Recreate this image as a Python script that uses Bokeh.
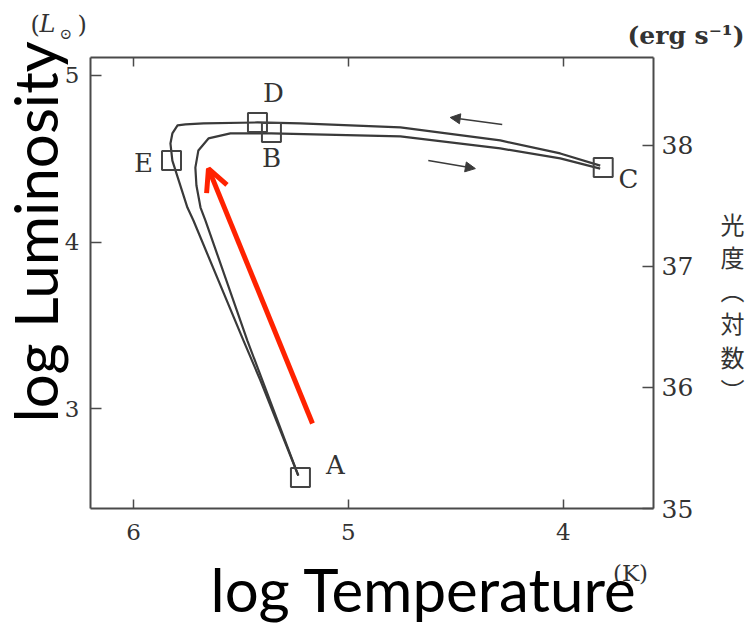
import math
from bokeh.plotting import figure
from bokeh.models import Range1d, LinearAxis, FixedTicker, Label, Arrow, OpenHead, NormalHead
from bokeh.core.properties import value
from bokeh.embed import file_html
from bokeh.resources import INLINE

# ---- data (log T [K], log L [L_sun]) ----
outer_logT = [5.233, 5.409, 5.488, 5.721, 5.749, 5.819, 5.828, 5.819, 5.795, 5.758, 5.674, 5.423, 5.223, 4.758, 4.293, 4.014, 3.828]
outer_logL = [2.598, 3.168, 3.408, 4.129, 4.207, 4.489, 4.592, 4.652, 4.700, 4.706, 4.712, 4.718, 4.712, 4.688, 4.610, 4.532, 4.459]
inner_logT = [5.233, 5.470, 5.665, 5.688, 5.707, 5.712, 5.698, 5.651, 5.549, 5.358, 4.758, 4.293, 4.014, 3.828]
inner_logL = [2.598, 3.408, 4.129, 4.207, 4.339, 4.447, 4.550, 4.622, 4.652, 4.652, 4.634, 4.562, 4.502, 4.441]

point_names = ["A", "B", "C", "D", "E"]
point_logT = [5.223, 5.358, 3.814, 5.423, 5.823]
point_logL = [2.586, 4.658, 4.447, 4.718, 4.489]
label_logT = [5.060, 5.358, 3.697, 5.349, 5.953]
label_logL = [2.664, 4.502, 4.381, 4.892, 4.477]

# direction arrows (start -> end)
arrow_left = [4.284, 4.706, 4.526, 4.748]
arrow_right = [4.628, 4.489, 4.409, 4.441]
red_arrow = [5.167, 2.910, 5.651, 4.441]

x_ticks = [6, 5, 4]
yL_ticks = [3, 4, 5]
yR_ticks = [35, 36, 37, 38]

# plotted box limits
X_BOX = (6.2, 3.58)
YL_BOX = (2.40, 5.108)
YR_BOX = (35.0, 38.727)

# box position on the canvas (pixels)
W, H = 751, 625
BOX_L, BOX_R, BOX_T, BOX_B = 90, 653, 57, 508

sx = (X_BOX[0] - X_BOX[1]) / (BOX_R - BOX_L)
sy = (YL_BOX[1] - YL_BOX[0]) / (BOX_B - BOX_T)
syr = (YR_BOX[1] - YR_BOX[0]) / (BOX_B - BOX_T)
x_full = (X_BOX[0] + BOX_L * sx, X_BOX[1] - (W - BOX_R) * sx)
y_full = (YL_BOX[0] - (H - BOX_B) * sy, YL_BOX[1] + BOX_T * sy)
yr_full = (YR_BOX[0] - (H - BOX_B) * syr, YR_BOX[1] + BOX_T * syr)

INK = "#3a3a3a"
SERIF = "DejaVu Serif"

p = figure(width=W, height=H, x_range=Range1d(*x_full), y_range=Range1d(*y_full),
           output_backend="svg", toolbar_location=None,
           min_border_left=0, min_border_right=0, min_border_top=0, min_border_bottom=0)
p.extra_y_ranges = {"erg": Range1d(*yr_full)}
p.grid.visible = False
p.outline_line_color = None
p.background_fill_color = "white"
p.border_fill_color = "white"


def style_axis(ax, tick_in, standoff, size="23px"):
    ax.axis_line_color = "#4a4a4a"
    ax.axis_line_width = 2
    ax.major_tick_line_color = "#4a4a4a"
    ax.major_tick_line_width = 1.5
    ax.major_tick_in = tick_in
    ax.major_tick_out = 0
    ax.minor_tick_line_color = None
    ax.major_label_text_font = SERIF
    ax.major_label_text_font_size = size
    ax.major_label_text_color = "#333333"
    ax.major_label_standoff = standoff


xb = p.xaxis[0]
xb.ticker = FixedTicker(ticks=x_ticks)
xb.fixed_location = YL_BOX[0]
xb.bounds = (X_BOX[1], X_BOX[0])
style_axis(xb, 9, 15)

yl = p.yaxis[0]
yl.ticker = FixedTicker(ticks=yL_ticks)
yl.fixed_location = X_BOX[0]
yl.bounds = YL_BOX
style_axis(yl, 11, 11)
yl.major_label_orientation = "horizontal"

xt = LinearAxis(ticker=FixedTicker(ticks=x_ticks), fixed_location=YL_BOX[1], bounds=(X_BOX[1], X_BOX[0]))
style_axis(xt, 9, 4)
xt.major_label_overrides = {t: "" for t in x_ticks}
p.add_layout(xt, "above")

yr = LinearAxis(y_range_name="erg", ticker=FixedTicker(ticks=yR_ticks), fixed_location=X_BOX[1],
                bounds=YR_BOX)
style_axis(yr, 11, 8, size="25px")
yr.major_label_orientation = "horizontal"
p.add_layout(yr, "right")

# tracks
p.line(outer_logT, outer_logL, line_width=2.2, line_color=INK, line_join="round")
p.line(inner_logT, inner_logL, line_width=2.2, line_color=INK, line_join="round")

# marked points
p.scatter(point_logT, point_logL, marker="square", size=19, fill_color=None,
          line_color="#444444", line_width=2)
p.text(label_logT, label_logL, text=point_names, text_font=value(SERIF), text_font_size="26px",
       text_align="center", text_baseline="middle", text_color="#333333")

# small direction arrows
for a in (arrow_left, arrow_right):
    p.add_layout(Arrow(end=NormalHead(size=10, fill_color=INK, line_color=INK),
                       x_start=a[0], y_start=a[1], x_end=a[2], y_end=a[3],
                       line_color=INK, line_width=1.5))

# red arrow
p.add_layout(Arrow(end=OpenHead(size=22, line_color="#ff2200", line_width=5),
                   x_start=red_arrow[0], y_start=red_arrow[1], x_end=red_arrow[2], y_end=red_arrow[3],
                   line_color="#ff2200", line_width=5))


def dx(px):
    return x_full[0] - px * sx


def dy(py):
    return y_full[1] - py * sy


def lab(px, py, text, **kw):
    opts = dict(text_font=SERIF, text_font_size="22px", text_color="#333333",
                text_align="left", text_baseline="middle")
    opts.update(kw)
    p.add_layout(Label(x=dx(px), y=dy(py), text=text, **opts))


# unit labels
lab(30, 24, "(", text_font_size="24px")
lab(39, 23, "L", text_font_style="italic", text_font_size="24px")
lab(59, 33, "⊙", text_font_size="15px")
lab(77, 24, ")", text_font_size="24px")
lab(627, 35, "(erg s⁻¹)", text_font_style="bold", text_font_size="25px")
lab(630, 572, "(K)", text_font_size="23px", text_align="center")
lab(732, 205, "光\n度\n︵\n対\n数\n︶", text_font="Noto Sans CJK JP", text_font_size="24px",
    text_align="center", text_baseline="top", text_line_height=0.95)

# big overlay titles
lab(34, 422, "log Luminosity", text_font="Lato", text_font_size="60px", text_color="black",
    text_baseline="alphabetic", angle=math.pi / 2)
lab(210, 588, "log Temperature", text_font="Lato", text_font_size="60px", text_color="black",
    text_baseline="alphabetic")

open("out.html", "w").write(file_html(p, INLINE))
